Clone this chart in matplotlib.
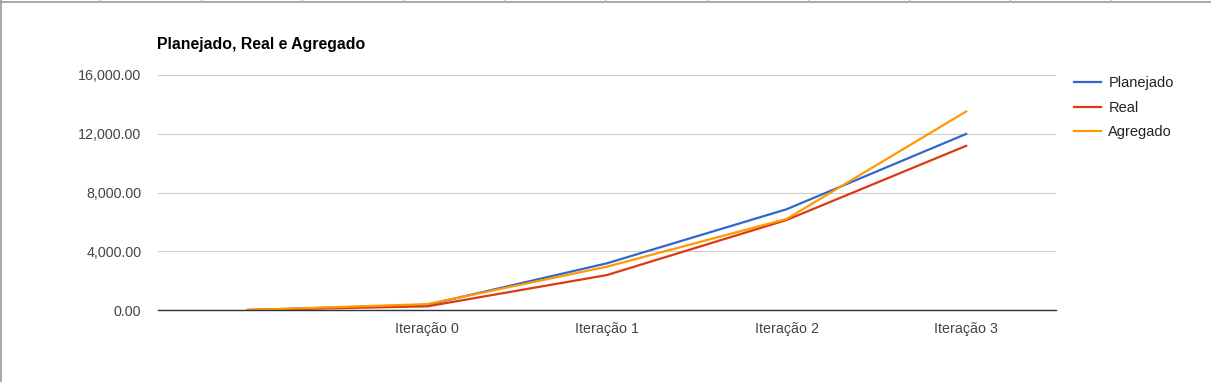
import matplotlib
matplotlib.use('Agg')
import matplotlib.pyplot as plt
import matplotlib.ticker as mtick
from matplotlib.lines import Line2D

"------------------DATA"
categories = ['', 'Iteração 0', 'Iteração 1', 'Iteração 2', 'Iteração 3']
planejado = [0, 350, 3180, 6860, 11990]
real = [0, 250, 2380, 6130, 11180]
agregado = [0, 400, 2950, 6200, 13520]
"----------------------"

plt.rcParams['font.family'] = ['Liberation Sans', 'DejaVu Sans']

fig = plt.figure(figsize=(12.11, 3.82), dpi=100)
ax = fig.add_axes([158/1211, 72/382, (1056-158)/1211, (310-75)/382])

x = list(range(len(categories)))
ax.plot(x, planejado, color='#3366cc', lw=1.6, label='Planejado')
ax.plot(x, real, color='#dc3912', lw=1.6, label='Real')
ax.plot(x, agregado, color='#ff9900', lw=1.6, label='Agregado')

ax.set_xlim(-0.5, 4.5)
ax.set_ylim(0, 16000)
ax.set_yticks([0, 4000, 8000, 12000, 16000])
ax.yaxis.set_major_formatter(mtick.StrMethodFormatter('{x:,.2f}'))
ax.set_xticks(x)
ax.set_xticklabels(categories)
ax.tick_params(axis='both', length=0, labelsize=10.3, labelcolor='#444444')
ax.tick_params(axis='y', pad=12)
ax.tick_params(axis='x', pad=9)
ax.grid(axis='y', color='#cccccc', lw=0.8)
ax.set_axisbelow(True)
for s in ['top', 'right', 'left']:
    ax.spines[s].set_visible(False)
ax.spines['bottom'].set_color('#333333')
ax.spines['bottom'].set_linewidth(1.0)
ax.spines['bottom'].set_zorder(3)

fig.text(157/1211, 1 - 44/382, 'Planejado, Real e Agregado', fontsize=11.4,
         fontweight='bold', ha='left', va='center', color='black')

ax.legend(loc='upper left', bbox_to_anchor=(1061/1211, 1 - 63/382),
          bbox_transform=fig.transFigure, frameon=False, fontsize=10.5,
          handlelength=1.85, handletextpad=0.5, labelspacing=0.72,
          labelcolor='#222222')

# sheet border lines
fig.add_artist(Line2D([0, 1], [1 - 1.5/382, 1 - 1.5/382], color='#999999', lw=1.2))
fig.add_artist(Line2D([0.8/1211, 0.8/1211], [0, 1], color='#999999', lw=1.2))
for px in [100, 201, 302, 403, 504, 605, 707, 808, 909, 1010, 1111]:
    fig.add_artist(Line2D([px/1211, px/1211], [1, 1 - 2/382], color='#bbbbbb', lw=0.8))

fig.savefig('out.png', dpi=100)
